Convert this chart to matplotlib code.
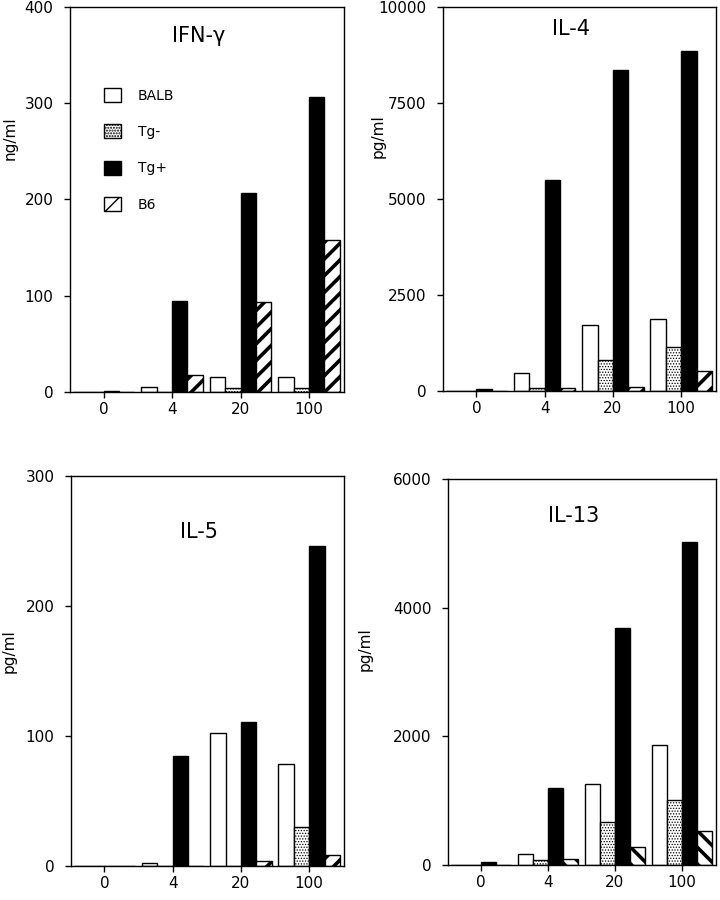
"""
Cytokine production by dose: IFN-g, IL-4, IL-5, IL-13 grouped bars.
"""
import numpy as np
import matplotlib
matplotlib.use("Agg")
import matplotlib.pyplot as plt
from matplotlib.patches import Patch

matplotlib.rcParams['font.family'] = 'DejaVu Sans'
matplotlib.rcParams['font.size'] = 11

DOSES = ["0", "4", "20", "100"]
STRAINS = ["BALB", "Tg-", "Tg+", "B6"]

# values per strain, one per dose
IFNG_BALB = [0, 5, 16, 16]
IFNG_TGN = [0, 0, 4.5, 4]
IFNG_TGP = [1.5, 95, 207, 306]
IFNG_B6 = [0, 18, 93, 158]

IL4_BALB = [0, 470, 1720, 1870]
IL4_TGN = [0, 70, 810, 1150]
IL4_TGP = [45, 5500, 8350, 8850]
IL4_B6 = [0, 70, 110, 510]

IL5_BALB = [0, 2.3, 102, 78.7]
IL5_TGN = [0, 0, 0, 29.7]
IL5_TGP = [0, 85, 110.5, 246]
IL5_B6 = [0, 0, 3.8, 8.7]

IL13_BALB = [0, 166, 1257, 1860]
IL13_TGN = [0, 78, 665, 1003]
IL13_TGP = [40, 1195, 3688, 5013]
IL13_B6 = [0, 88, 275, 530]

PANELS = [
    # title, data, ymax, yticks, ylabel, axes rect px (l, t, r, b), ylabel coords, title y, stripe
    ("IFN-\u03b3", [IFNG_BALB, IFNG_TGN, IFNG_TGP, IFNG_B6], 400, [0, 100, 200, 300, 400],
     "ng/ml", (70, 7, 344, 392), (-0.19, 0.66), 0.925, "//"),
    ("IL-4", [IL4_BALB, IL4_TGN, IL4_TGP, IL4_B6], 10000, [0, 2500, 5000, 7500, 10000],
     "pg/ml", (443, 7, 716, 391), (-0.21, 0.665), 0.943, "//"),
    ("IL-5", [IL5_BALB, IL5_TGN, IL5_TGP, IL5_B6], 300, [0, 100, 200, 300],
     "pg/ml", (71, 476, 344, 866), (-0.2, 0.55), 0.856, "//"),
    ("IL-13", [IL13_BALB, IL13_TGN, IL13_TGP, IL13_B6], 6000, [0, 2000, 4000, 6000],
     "pg/ml", (448, 479, 716, 865), (-0.28, 0.56), 0.904, "\\\\"),
]

W, H = 720, 900
BAR_W = 0.225


def style_for(i, stripe):
    if i == 0:
        return dict(color="white", hatch=None), 1.0
    if i == 1:
        return dict(color="white", hatch="......"), 0.6
    if i == 2:
        return dict(color="black", hatch=None), 1.0
    return dict(color="white", hatch=stripe), 2.6


def draw_panel(fig, title, data, ymax, yticks, ylabel, rect, lab_xy, title_y, stripe):
    l, t, r, b = rect
    ax = fig.add_axes([l / W, 1 - b / H, (r - l) / W, (b - t) / H])
    x = np.arange(len(DOSES))
    for i, vals in enumerate(data):
        st, hlw = style_for(i, stripe)
        with plt.rc_context({'hatch.linewidth': hlw}):
            ax.bar(x + (i - 1.5) * BAR_W, vals, width=BAR_W, facecolor=st["color"],
                   edgecolor="black", linewidth=1.0, hatch=st["hatch"], zorder=2)

    ax.set_xlim(-0.49, 3.51)
    ax.set_ylim(0, ymax)
    ax.set_xticks(x)
    ax.set_xticklabels(DOSES)
    ax.set_yticks(yticks)
    ax.set_yticklabels([str(v) for v in yticks])
    ax.tick_params(direction="out", length=4, width=1, labelsize=11)
    ax.tick_params(axis="y", pad=8)
    for s in ax.spines.values():
        s.set_linewidth(1.0)
    ax.set_ylabel(ylabel, fontsize=11)
    ax.yaxis.set_label_coords(*lab_xy)
    ax.text(0.47, title_y, title, transform=ax.transAxes,
            ha="center", va="center", fontsize=15)
    return ax


fig = plt.figure(figsize=(7.2, 9), dpi=100)
fig.patch.set_facecolor("white")

axes = [draw_panel(fig, *p) for p in PANELS]

# legend in the IFN-g panel
handles = []
for i, name in enumerate(STRAINS):
    st, hlw = style_for(i, "//")
    with plt.rc_context({'hatch.linewidth': hlw}):
        handles.append(Patch(facecolor=st["color"], edgecolor="black",
                             hatch=st["hatch"], linewidth=1.0, label=name))
axes[0].legend(handles=handles, loc="upper left", bbox_to_anchor=(0.125, 0.79),
               frameon=False, fontsize=10, handlelength=1.2, handleheight=1.2,
               labelspacing=1.55, handletextpad=1.2, borderpad=0, borderaxespad=0)

plt.savefig("out.png", dpi=100)
